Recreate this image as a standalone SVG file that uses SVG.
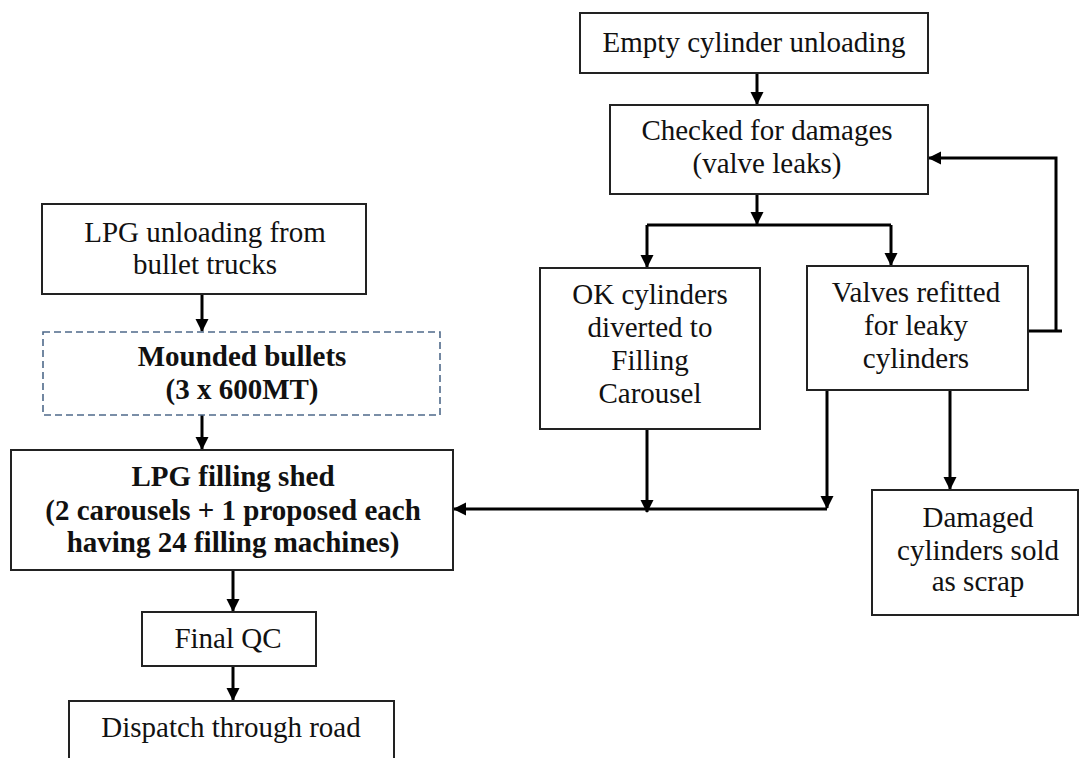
<svg xmlns="http://www.w3.org/2000/svg" width="1080" height="758" viewBox="0 0 1080 758">
<defs>
<marker id="ah" markerUnits="userSpaceOnUse" markerWidth="14" markerHeight="14" refX="12" refY="7" orient="auto">
<path d="M0,0.5 L13,7 L0,13.5 z" fill="#000"/>
</marker>
<style>
.box{fill:#fff;stroke:#222;stroke-width:2}
.dash{fill:#fff;stroke:#4f6a8a;stroke-width:1.6;stroke-dasharray:7,4}
.t{font-family:"Liberation Serif","Times New Roman",serif;font-size:29px;fill:#111;text-anchor:middle}
.b{font-weight:bold}
.c{fill:none;stroke:#000;stroke-width:3}
.ca{fill:none;stroke:#000;stroke-width:3;marker-end:url(#ah)}
</style>
</defs>
<rect width="1080" height="758" fill="#fff"/>
<g id="connectors">
<path class="ca" d="M757,73 V104"/>
<path class="ca" d="M757,194 V224"/>
<path class="c" d="M647,225 H891"/>
<path class="ca" d="M647,225 V267"/>
<path class="ca" d="M891,225 V265"/>
<path class="c" d="M1028,331 H1062"/>
<path class="ca" d="M1056,331 V158 H929"/>
<path class="ca" d="M647,429 V512"/>
<path class="ca" d="M827,391 V508"/>
<path class="ca" d="M827,509 H454"/>
<path class="ca" d="M950,391 V489"/>
<path class="ca" d="M202,294 V331"/>
<path class="ca" d="M202,415 V449"/>
<path class="ca" d="M233,570 V611"/>
<path class="ca" d="M233,666 V700"/>
</g>
<g id="n-empty">
<rect class="box" x="580" y="13" width="348" height="60"/>
<text class="t" x="754" y="52">Empty cylinder unloading</text>
</g>
<g id="n-checked">
<rect class="box" x="610" y="105" width="318" height="89"/>
<text class="t" x="767" y="140">Checked for damages</text>
<text class="t" x="767" y="173">(valve leaks)</text>
</g>
<g id="n-ok">
<rect class="box" x="540" y="268" width="220" height="161"/>
<text class="t" x="650" y="304">OK cylinders</text>
<text class="t" x="650" y="337">diverted to</text>
<text class="t" x="650" y="370">Filling</text>
<text class="t" x="650" y="403">Carousel</text>
</g>
<g id="n-valves">
<rect class="box" x="807" y="266" width="221" height="124"/>
<text class="t" x="916" y="302">Valves refitted</text>
<text class="t" x="916" y="335">for leaky</text>
<text class="t" x="916" y="368">cylinders</text>
</g>
<g id="n-damaged">
<rect class="box" x="872" y="490" width="206" height="125"/>
<text class="t" x="978" y="527">Damaged</text>
<text class="t" x="978" y="560">cylinders sold</text>
<text class="t" x="978" y="591">as scrap</text>
</g>
<g id="n-lpg-unloading">
<rect class="box" x="42" y="204" width="324" height="90"/>
<text class="t" x="205" y="242">LPG unloading from</text>
<text class="t" x="205" y="274">bullet trucks</text>
</g>
<g id="n-mounded">
<rect class="dash" x="43" y="332" width="397" height="83"/>
<text class="t b" x="242" y="366">Mounded bullets</text>
<text class="t b" x="242" y="399">(3 x 600MT)</text>
</g>
<g id="n-filling">
<rect class="box" x="11" y="450" width="442" height="120"/>
<text class="t b" x="233" y="486">LPG filling shed</text>
<text class="t b" x="233" y="520">(2 carousels + 1 proposed each</text>
<text class="t b" x="233" y="552">having 24 filling machines)</text>
</g>
<g id="n-qc">
<rect class="box" x="142" y="612" width="174" height="54"/>
<text class="t" x="228" y="648">Final QC</text>
</g>
<g id="n-dispatch">
<rect class="box" x="69" y="701" width="325" height="70"/>
<text class="t" x="231" y="737">Dispatch through road</text>
</g>
</svg>
